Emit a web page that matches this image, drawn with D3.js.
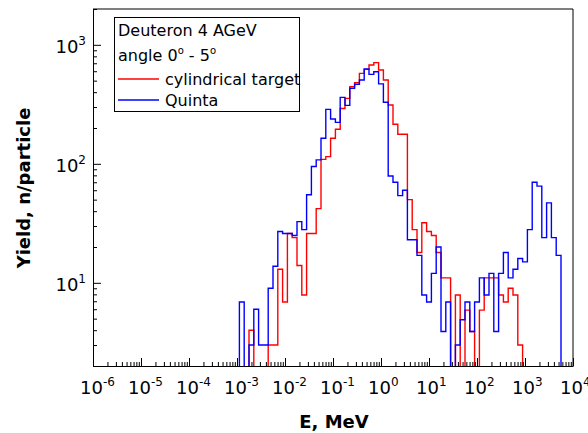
<!DOCTYPE html>
<html>
<head>
<meta charset="utf-8">
<script src="https://cdn.jsdelivr.net/npm/d3@7"></script>
<style>
  body { margin: 0; background: #fff; }
  text { font-family: "DejaVu Sans", sans-serif; }
</style>
</head>
<body>
<div class="chart"></div>
<script>
// log10(E) of the first bin centre, bins are 0.1 decade wide
const firstBinCentre = -2.9
const binWidth = 0.1

// Yield per bin, cylindrical target (red), 0 = empty bin
const cylindrical = [
    0, 0, 4.0, 0, 0, 0, 3.0, 3.0, 13, 6.9,
    26, 24, 14, 7.9, 26, 26, 42, 109, 115, 164,
    195, 292, 355, 445, 481, 576, 622, 676, 708, 614,
    506, 312, 215, 177, 177, 50, 28, 18, 32, 27,
    25, 18, 11, 11, 0, 7.9, 0, 5.9, 3.9, 0,
    5.9, 11, 11, 11, 7.9, 6.9, 9.0, 7.9, 3.0, 0,
    0, 0, 0, 0, 0, 0, 0
]

// Yield per bin, Quinta (blue)
const quinta = [
    6.9, 0, 3.0, 6.0, 3.0, 3.0, 9.0, 13.8, 27, 26,
    26, 25, 32.7, 28, 55, 95, 108, 164, 287, 238,
    223, 362, 310, 431, 466, 506, 627, 565, 594, 470,
    329, 79, 70, 54, 60, 23, 23, 17, 7.9, 6.9,
    12, 20, 3.9, 6.9, 0, 3.0, 4.9, 6.9, 3.9, 6.9,
    11, 7.9, 12, 3.9, 12, 18, 11, 13, 16, 15,
    28, 70, 65, 24, 47, 24, 17
]

const xTickExps = [-6, -5, -4, -3, -2, -1, 0, 1, 2, 3, 4]
const yTickExps = [1, 2, 3]
const legendTitle = ["Deuteron 4 AGeV", "angle 0", "o", " - 5", "o"]
const seriesNames = ["cylindrical target", "Quinta"]
const seriesColors = ["#ff0000", "#0000ff"]

const width = 588
const height = 433
const plotL = 93, plotR = 573, plotT = 9, plotB = 366

const svg = d3.select(".chart").append("svg")
    .attr("width", width)
    .attr("height", height)
    .attr("viewBox", [0, 0, width, height])

const x = d3.scaleLog().domain([1e-6, 1e4]).range([plotL, plotR])
const y = d3.scaleLog().domain([2, 2000]).range([plotB, plotT])

svg.append("clipPath").attr("id", "plot-clip")
    .append("rect")
    .attr("x", plotL).attr("y", plotT)
    .attr("width", plotR - plotL).attr("height", plotB - plotT)

// step path for a histogram
function histPath(values) {
    const edge = i => x(Math.pow(10, firstBinCentre + (i - 0.5) * binWidth))
    const yv = v => v > 0 ? y(v) : plotB + 10
    const p = d3.path()
    p.moveTo(edge(0), plotB + 10)
    values.forEach((v, i) => {
        p.lineTo(edge(i), yv(v))
        p.lineTo(edge(i + 1), yv(v))
    })
    p.lineTo(edge(values.length), plotB + 10)
    return p.toString()
}

const hists = svg.append("g").attr("clip-path", "url(#plot-clip)")
hists.selectAll("path")
    .data([cylindrical, quinta])
    .join("path")
    .attr("d", d => histPath(d))
    .attr("fill", "none")
    .attr("stroke", (d, i) => seriesColors[i])
    .attr("stroke-width", 1.4)

// minor tick values (2..9 per decade)
function minorTicks(scale) {
    const [a, b] = scale.domain().map(Math.log10)
    const out = []
    for (let e = Math.floor(a); e <= Math.ceil(b); e++) {
        for (let m = 2; m <= 9; m++) {
            const v = m * Math.pow(10, e)
            if (v >= scale.domain()[0] && v <= scale.domain()[1]) out.push(v)
        }
    }
    return out
}

// x axis (ticks point inward)
const xAxis = svg.append("g").attr("transform", `translate(0,${plotB})`)
xAxis.call(d3.axisBottom(x).tickValues(xTickExps.map(e => Math.pow(10, e)))
    .tickSizeInner(-8).tickSizeOuter(0).tickFormat(""))
xAxis.append("g").call(d3.axisBottom(x).tickValues(minorTicks(x))
    .tickSizeInner(-4).tickSizeOuter(0).tickFormat(""))
    .select(".domain").remove()

// y axis
const yAxis = svg.append("g").attr("transform", `translate(${plotL},0)`)
yAxis.call(d3.axisLeft(y).tickValues(yTickExps.map(e => Math.pow(10, e)))
    .tickSizeInner(-8).tickSizeOuter(0).tickFormat(""))
yAxis.append("g").call(d3.axisLeft(y).tickValues(minorTicks(y))
    .tickSizeInner(-4).tickSizeOuter(0).tickFormat(""))
    .select(".domain").remove()

svg.selectAll(".domain").attr("stroke", "#000")
svg.selectAll(".tick line").attr("stroke", "#000")

// top and right frame
svg.append("path")
    .attr("d", `M${plotL},${plotT}H${plotR}V${plotB}`)
    .attr("fill", "none")
    .attr("stroke", "#000")

// power-of-ten labels
const xLabels = svg.append("g").selectAll("text")
    .data(xTickExps)
    .join("text")
    .attr("x", d => x(Math.pow(10, d)) - 13)
    .attr("y", 394)
    .attr("font-size", 18)
    .attr("fill", "#000")
xLabels.append("tspan").text("10")
xLabels.append("tspan").attr("dy", -8).attr("font-size", 12).text(d => d)

const yLabels = svg.append("g").selectAll("text")
    .data(yTickExps)
    .join("text")
    .attr("x", 86)
    .attr("y", d => y(Math.pow(10, d)) + 8)
    .attr("text-anchor", "end")
    .attr("font-size", 18)
    .attr("fill", "#000")
yLabels.append("tspan").text("10")
yLabels.append("tspan").attr("dy", -8).attr("font-size", 12).text(d => d)

// axis titles
svg.append("text")
    .attr("x", 334).attr("y", 428)
    .attr("text-anchor", "middle")
    .attr("font-size", 18).attr("font-weight", "bold")
    .text("E, MeV")

svg.append("text")
    .attr("transform", "translate(30,188) rotate(-90)")
    .attr("text-anchor", "middle")
    .attr("font-size", 18).attr("font-weight", "bold")
    .text("Yield, n/particle")

// legend
const legend = svg.append("g")
legend.append("rect")
    .attr("x", 114.5).attr("y", 17.5)
    .attr("width", 185).attr("height", 94)
    .attr("fill", "#fff").attr("stroke", "#000")

legend.append("text")
    .attr("x", 118).attr("y", 36)
    .attr("font-size", 16)
    .text(legendTitle[0])

const angle = legend.append("text")
    .attr("x", 118).attr("y", 61)
    .attr("font-size", 16)
angle.append("tspan").text(legendTitle[1])
angle.append("tspan").attr("dy", -7).attr("font-size", 10).text(legendTitle[2])
angle.append("tspan").attr("dy", 7).text(legendTitle[3])
angle.append("tspan").attr("dy", -7).attr("font-size", 10).text(legendTitle[4])

const items = legend.selectAll("g.item")
    .data(seriesNames)
    .join("g")
    .attr("class", "item")
    .attr("transform", (d, i) => `translate(0,${79 + i * 21})`)
items.append("line")
    .attr("x1", 118).attr("x2", 159)
    .attr("stroke", (d, i) => seriesColors[i])
    .attr("stroke-width", 1.4)
items.append("text")
    .attr("x", 165).attr("y", 6)
    .attr("font-size", 16)
    .text(d => d)
</script>
</body>
</html>
